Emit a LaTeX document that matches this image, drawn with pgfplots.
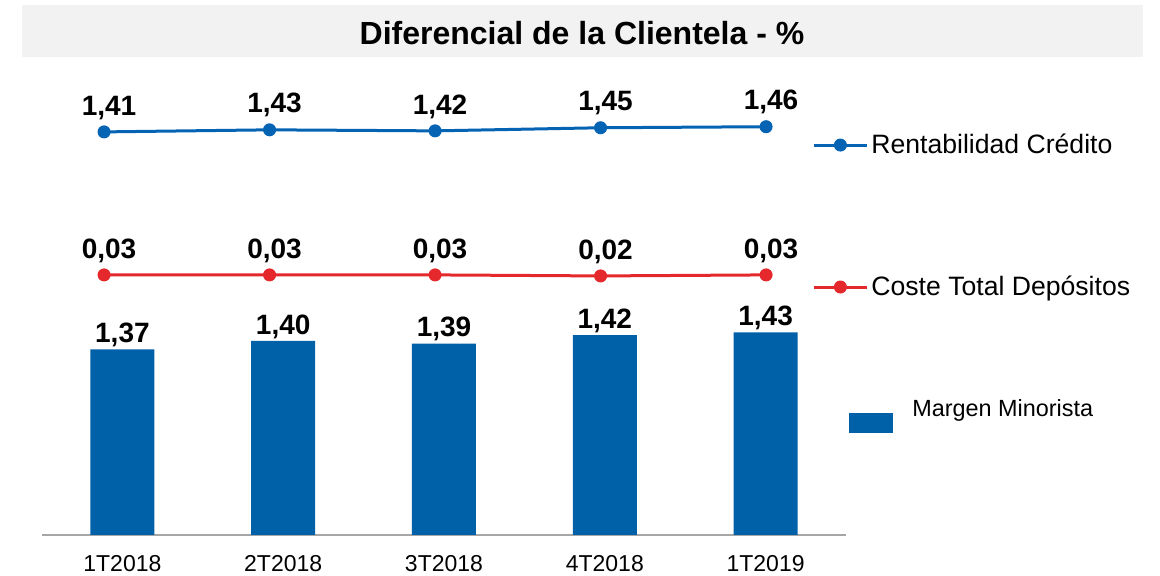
\documentclass[border=0pt]{standalone}
\usepackage{fontspec}
\setmainfont{Liberation Sans}
\usepackage{pgfplots}
\pgfplotsset{compat=1.18}

\definecolor{barblue}{HTML}{0060A8}
\definecolor{lineblue}{HTML}{0563B4}
\definecolor{linered}{HTML}{E4282B}
\definecolor{titlegray}{HTML}{F2F2F2}
\definecolor{basegray}{HTML}{A6A6A6}

% 1 px of the reference = 0.5pt
\pgfplotsset{
  panel/.style={scale only axis, width=402pt, height=227.5pt, at={(0,0)}, anchor=south west},
  valuelabels/.style={
    nodes near coords={\pgfmathprintnumber[fixed,fixed zerofill,precision=2,use comma,assume math mode=true]{\pgfplotspointmeta}},
    every node near coord/.append style={font=\bfseries\fontsize{14}{16}\selectfont, inner sep=0pt, text=black},
  },
  linepanel/.style={
    panel, hide axis,
    xmin=-0.375, xmax=4.483, ymin=-2.48, ymax=1.911,
    valuelabels,
    every node near coord/.append style={yshift=6pt, xshift=2.5pt},
    legend style={draw=none, fill=none, anchor=west, inner sep=0pt, column sep=1.5pt,
      font=\fontsize{13.3}{15}\selectfont, nodes={inner sep=0pt}},
    legend image code/.code={\draw[mark repeat=2,mark phase=2,#1] plot coordinates {(0pt,0pt) (13.25pt,0pt) (26.5pt,0pt)};},
  },
  serie/.style={#1, line width=1.5pt, mark=*, mark size=3pt, mark options={fill=#1, draw=#1, line width=0.5pt}},
}

\begin{document}
\begin{tikzpicture}
\useasboundingbox (-21pt,-20.5pt) rectangle (559pt,267.5pt);
\fill[titlegray] (-10pt,239pt) rectangle (550.5pt,265pt);
\node[font=\bfseries\fontsize{16}{19}\selectfont] at (270pt,251pt) {Diferencial de la Clientela - \%};

% Margen Minorista (bars)
\begin{axis}[panel,
  xmin=-0.5, xmax=4.5, ymin=0.714, ymax=2.322,
  ybar, bar width=32pt,
  axis x line*=bottom, axis y line=none,
  x axis line style={basegray, line width=0.75pt, -},
  xtick={0,1,2,3,4},
  xticklabels={1T2018,2T2018,3T2018,4T2018,1T2019},
  major tick length=0pt,
  xticklabel style={font=\fontsize{11.5}{13}\selectfont, inner sep=0pt, yshift=-10pt},
  valuelabels,
  every node near coord/.append style={yshift=1pt},
  legend style={draw=none, fill=none, anchor=west, inner sep=0pt, column sep=9.5pt,
    at={(axis description cs:1.0037,0.247)},
    font=\fontsize{11.7}{13}\selectfont, nodes={inner sep=0pt}},
  legend image code/.code={\fill[barblue] (0pt,-5pt) rectangle (22pt,5pt);},
]
\addplot[fill=barblue, draw=none] coordinates {(0,1.37) (1,1.40) (2,1.39) (3,1.42) (4,1.43)};
\addlegendentry{\raisebox{12.75pt}{Margen Minorista}}
\end{axis}

% Rentabilidad Credito
\begin{axis}[linepanel, legend style={at={(axis description cs:0.9577,0.857)}}]
\addplot[serie=lineblue] coordinates {(0,1.41) (1,1.43) (2,1.42) (3,1.45) (4,1.46)};
\addlegendentry{Rentabilidad Crédito}
\end{axis}

% Coste Total Depositos
\begin{axis}[linepanel, legend style={at={(axis description cs:0.9577,0.545)}}]
\addplot[serie=linered] coordinates {(0,0.03) (1,0.03) (2,0.03) (3,0.02) (4,0.03)};
\addlegendentry{Coste Total Depósitos}
\end{axis}
\end{tikzpicture}
\end{document}
